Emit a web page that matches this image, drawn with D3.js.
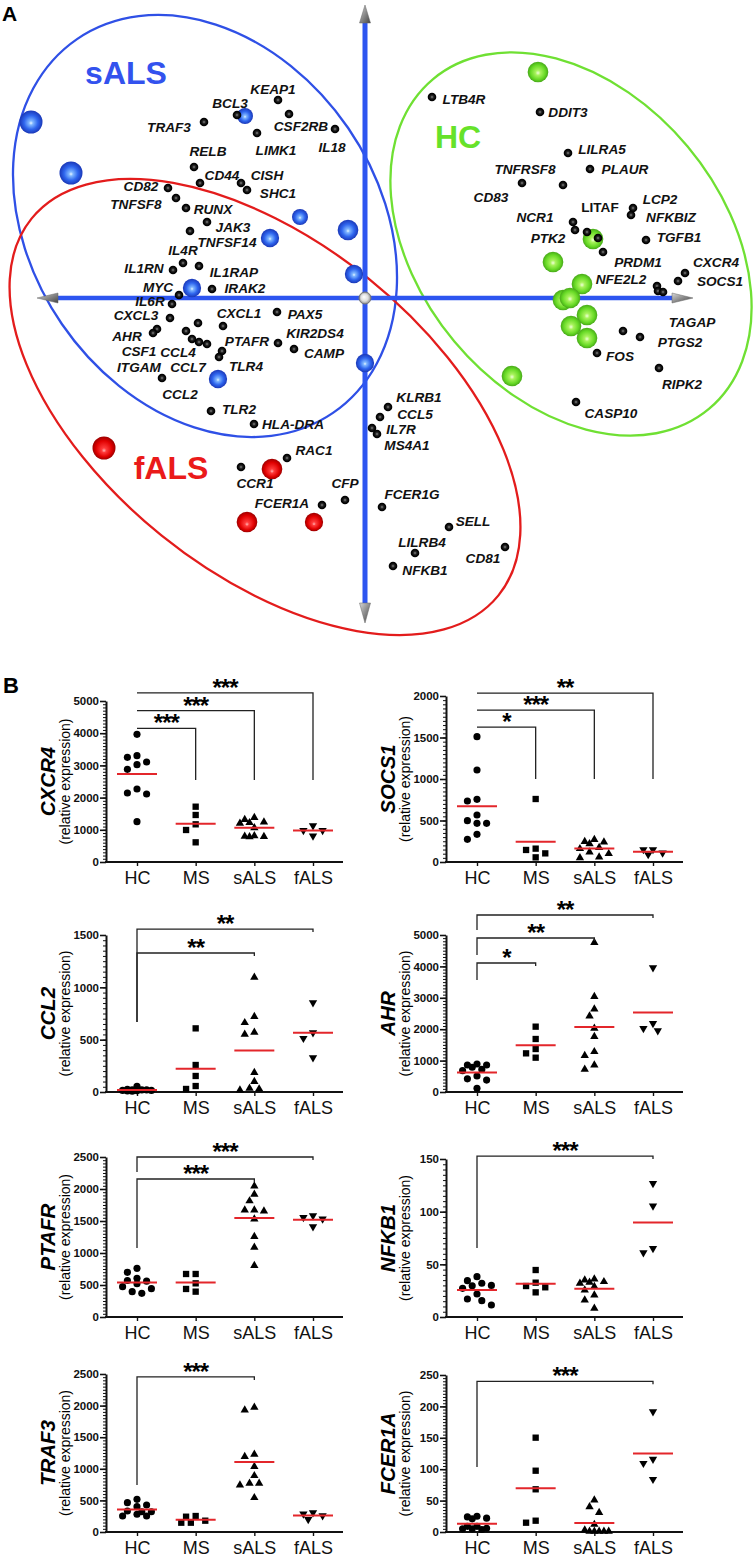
<!DOCTYPE html>
<html><head><meta charset="utf-8">
<script src="https://cdn.jsdelivr.net/npm/d3@7"></script>
<style>
html,body{margin:0;padding:0;background:#fff;}
svg{display:block;font-family:"Liberation Sans",Arial,Helvetica,sans-serif;}
</style></head><body>
<svg id="c" width="756" height="1558"></svg>
<script>
// ================= DATA =================
// Panel A: gene loadings (PC1, PC2)
const geneDots = [
["KEAP1",-1.74,3.96],["BCL3",-2.56,3.66],["CSF2RB",-1.52,3.68],["IL18",-0.60,3.38],["TRAF3",-3.22,3.52],
["LIMK1",-2.16,3.30],["RELB",-3.42,2.62],["CD44",-3.30,2.30],["CISH",-2.48,2.30],["SHC1",-2.36,2.16],
["CD82",-3.94,2.20],["TNFSF8",-3.78,2.00],["RUNX",-3.58,1.80],["JAK3",-3.16,1.52],["TNFSF14",-3.50,1.34],
["IL4R",-3.64,0.70],["IL1RN",-3.84,0.56],["IL1RAP",-3.32,0.64],["IRAK2",-3.06,0.18],["MYC",-3.72,0.06],
["IL6R",-3.86,-0.12],["CXCL3",-3.90,-0.40],["AHR",-4.16,-0.62],["CSF1",-4.24,-0.70],["CCL4",-3.34,-0.50],
["ITGAM",-3.58,-0.66],["CCL3",-3.46,-0.82],["CCL7",-3.32,-0.88],["IL1B",-3.16,-0.92],["CXCL1",-2.84,-0.56],
["TLR4",-2.86,-1.06],["CD14",-2.92,-1.18],["PAX5",-1.76,-0.28],["PTAFR",-1.74,-0.90],["CAMP",-1.42,-1.02],
["CCL2",-4.06,-1.60],["TLR2",-3.08,-2.26],["HLA-DRA",-2.22,-2.52],["RAC1",-1.56,-3.20],["CCR1",-2.48,-3.38],
["CFP",-0.40,-4.04],["FCER1A",-0.86,-4.14],["KLRB1",0.46,-2.18],["CCL5",0.30,-2.38],["IL7R",0.14,-2.60],
["MS4A1",0.24,-2.72],["FCER1G",0.34,-4.18],["SELL",1.68,-4.58],["LILRB4",1.00,-5.10],["NFKB1",0.56,-5.36],
["CD81",2.80,-4.98],["TAGAP",5.16,-0.66],["PTGS2",5.50,-0.78],["FOS",4.64,-1.10],["RIPK2",5.88,-1.40],
["CASP10",4.22,-2.08],["LTB4R",1.34,4.02],["DDIT3",3.50,3.72],["LILRA5",4.06,2.90],["PLAUR",4.50,2.58],
["TNFRSF8",3.96,2.26],["CD83",3.14,2.30],["LCP2",5.36,1.80],["NFKBIZ",5.32,1.66],["NCR1",4.16,1.52],
["LITAF",4.20,1.36],["PTK2",4.44,1.32],["PTK2b",4.66,1.20],["TGFB1",5.62,1.16],["PRDM1",4.76,0.92],
["CXCR4",6.40,0.50],["SOCS1",6.26,0.34],["NFE2L2",5.84,0.24],["NFE2L2b",5.86,0.14],["NFE2L2c",5.96,0.12]
];
// label anchor (centre) of each gene name, same units
const geneLabels = [
["KEAP1",-1.84,4.18],["BCL3",-2.70,3.90],["CSF2RB",-1.28,3.44],["IL18",-0.66,3.02],["TRAF3",-3.92,3.42],
["LIMK1",-1.78,2.96],["RELB",-3.14,2.94],["CD44",-2.86,2.46],["CISH",-1.96,2.46],["SHC1",-1.74,2.10],
["CD82",-4.48,2.24],["TNFSF8",-4.58,1.88],["RUNX",-3.04,1.78],["JAK3",-2.64,1.42],["TNFSF14",-2.76,1.12],
["IL4R",-3.64,0.96],["IL1RN",-4.42,0.60],["IL1RAP",-2.62,0.52],["IRAK2",-2.40,0.20],["MYC",-4.14,0.22],
["IL6R",-4.30,-0.06],["CXCL3",-4.58,-0.34],["AHR",-4.76,-0.76],["CSF1",-4.52,-1.06],["CCL4",-3.74,-1.08],
["ITGAM",-4.52,-1.38],["CCL7",-3.54,-1.38],["CXCL1",-2.52,-0.30],["PAX5",-1.20,-0.32],["KIR2DS4",-1.00,-0.70],
["PTAFR",-2.36,-0.86],["CAMP",-0.82,-1.10],["TLR4",-2.38,-1.36],["CCL2",-3.70,-1.92],["TLR2",-2.52,-2.22],
["HLA-DRA",-1.44,-2.52],["RAC1",-1.02,-3.04],["CCR1",-2.20,-3.70],["CFP",-0.40,-3.70],["FCER1A",-1.66,-4.10],
["KLRB1",1.08,-1.98],["CCL5",1.00,-2.32],["IL7R",0.72,-2.62],["MS4A1",0.84,-2.94],["FCER1G",0.94,-3.92],
["SELL",2.16,-4.46],["LILRB4",1.14,-4.88],["NFKB1",1.20,-5.44],["CD81",2.36,-5.20],["TAGAP",6.54,-0.48],
["PTGS2",6.30,-0.88],["FOS",5.10,-1.16],["RIPK2",6.34,-1.72],["CASP10",4.92,-2.30],["LTB4R",1.98,3.98],
["DDIT3",4.06,3.72],["LILRA5",4.74,2.98],["PLAUR",5.20,2.58],["TNFRSF8",3.20,2.58],["CD83",2.52,2.02],
["LITAF",4.70,1.82],["LCP2",5.90,1.98],["NFKBIZ",6.12,1.62],["NCR1",3.40,1.62],["PTK2",3.66,1.20],
["TGFB1",6.28,1.22],["PRDM1",5.46,0.72],["CXCR4",7.02,0.72],["SOCS1",7.10,0.34],["NFE2L2",5.12,0.38]
];
const uprightLabels = ["LITAF"];
// Panel A: subject scores (PC1, PC2, PC3 depth 0..1)
const sALSsubjects = [[-6.68,3.52,1],[-5.88,2.50,1],[-2.40,3.64,0],[-1.30,1.62,0],[-0.34,1.36,0.67],
  [-1.90,1.20,0.33],[-0.22,0.48,0.33],[-3.46,0.20,0.33],[-2.94,-1.62,0.33],[0.00,-1.30,0.33]];
const fALSsubjects = [[-5.22,-3.00,1],[-1.86,-3.42,0.67],[-2.36,-4.48,0.67],[-1.02,-4.48,0.33]];
const HCsubjects = [[3.46,4.52,0.67],[4.56,1.18,0.67],[3.76,0.72,0.67],[4.34,0.28,0.67],[3.96,-0.04,0.67],
  [4.10,0.00,0.67],[4.44,-0.34,0.67],[4.12,-0.56,0.67],[4.44,-0.80,0.67],[2.94,-1.56,0.67]];
// group ellipses: [name, centre x, centre y, semi-major, semi-minor, angle deg]
const groupEllipses = [["sALS",-3.20,1.44,4.53,3.47,55.6],["fALS",-2.00,-2.18,6.00,3.30,38.9],["HC",4.12,1.08,4.30,3.04,50.1]];
const groupLabels = [["sALS",-4.78,4.50],["HC",1.86,3.22],["fALS",-3.88,-3.40]];

// Panel B
const cats = ["HC","MS","sALS","fALS"];
const CXCR4 = [[3965,3302,3250,3106,3023,2878,2267,2143,2112,1253],[1718,1460,1170,994,611],
  [1380,1320,1240,1220,1200,1060,810,800,790,780],[980,1130,980,810]];
const SOCS1 = [[1510,1108,735,755,566,466,466,498,273,333],[759,145,56,104,161],
  [240,270,245,220,100,175,160,120,50,60],[150,90,110,150]];
const CCL2 = [[20,55,15,10,25,8,15,20,12,20],[608,258,153,29,57],
  [1096,720,662,551,570,185,99,35,19,29],[854,567,513,328]];
const AHR = [[860,790,860,890,720,680,510,420,380,120],[2081,1688,1369,1231,1093],
  [4756,3036,2643,2420,2028,1762,1284,1157,860,722],[3960,2187,1953,2028]];
const PTAFR = [[698,760,570,560,604,520,443,474,370,396],[672,672,526,396,438],
  [2047,1917,1813,1672,1656,1672,1531,1255,1089,802],[1557,1583,1531,1411]];
const NFKB1 = [[34.5,32,30,38.3,27.2,29.7,21.8,17.1,15.5,11.4],[44.6,29.4,32.6,28.2,23.4],
  [36,35,33.5,25.6,32,28.8,20.9,16.1,8.2,33],[126.9,105.4,61,65.2]];
const TRAF3 = [[401,464,427,517,280,253,253,332,321,321],[179,253,242,147,147],
  [1930,1973,1229,1192,1034,891,770,744,770,543],[285,200,258,306]];
const FCER1A = [[25,22,21,24,9,6,4,5,5,9],[150.2,97.6,68,14.8,18],
  [51,40,31,12,1,1,1,1,1,3],[191.6,115.8,109.4,83.9]];
const CXCR4_ticks=[0,1000,2000,3000,4000,5000], SOCS1_ticks=[0,500,1000,1500,2000],
      CCL2_ticks=[0,500,1000,1500], AHR_ticks=[0,1000,2000,3000,4000,5000],
      PTAFR_ticks=[0,500,1000,1500,2000,2500], NFKB1_ticks=[0,50,100,150],
      TRAF3_ticks=[0,500,1000,1500,2000,2500], FCER1A_ticks=[0,50,100,150,200,250];
// significance: [from, to, bar level, left leg end, right leg end, label]
const CXCR4_sig=[["HC","MS",4150,null,2550,"***"],["HC","sALS",4700,null,2550,"***"],["HC","fALS",5250,null,2550,"***"]];
const SOCS1_sig=[["HC","MS",1625,null,1000,"*"],["HC","sALS",1830,null,1000,"***"],["HC","fALS",2035,null,1000,"**"]];
const CCL2_sig=[["HC","sALS",1328,669,null,"**"],["HC","fALS",1557,669,null,"**"]];
const AHR_sig=[["HC","MS",4108,3567,null,"*"],["HC","sALS",4904,4363,null,"**"],["HC","fALS",5637,5159,null,"**"]];
const PTAFR_sig=[["HC","sALS",2156,1078,null,"***"],["HC","fALS",2500,2266,null,"***"]];
const NFKB1_sig=[["HC","fALS",152.8,65.5,null,"***"]];
const TRAF3_sig=[["HC","sALS",2453,744,null,"***"]];
const FCER1A_sig=[["HC","fALS",240,103.5,null,"***"]];

// ================= DRAWING =================
const svg = d3.select("#c");
const defs = svg.append("defs");
function radial(id, stops, fx, fy){
  const g=defs.append("radialGradient").attr("id",id).attr("cx","50%").attr("cy","50%").attr("r","50%")
    .attr("fx",(fx*100)+"%").attr("fy",(fy*100)+"%");
  stops.forEach(s=>g.append("stop").attr("offset",s[0]).attr("stop-color",s[1]));
}
radial("gBlue",[[0,"#e8f6ff"],[0.18,"#7fb6ff"],[0.6,"#2f66ee"],[1,"#1a38b8"]],0.5,0.55);
radial("gRed",[[0,"#ffb4b4"],[0.2,"#ff3c3c"],[0.7,"#e00000"],[1,"#9c0000"]],0.5,0.62);
radial("gGreen",[[0,"#efffd8"],[0.25,"#a8f25c"],[0.7,"#68da26"],[1,"#46a818"]],0.5,0.55);
radial("gDark",[[0,"#8a8a8a"],[0.35,"#2a2a2a"],[0.7,"#050505"],[1,"#000"]],0.5,0.5);
radial("gOrig",[[0,"#ffffff"],[0.6,"#dddddd"],[1,"#8a8a8a"]],0.4,0.4);
const lg=defs.append("linearGradient").attr("id","gCone").attr("x1","0").attr("y1","0").attr("x2","1").attr("y2","1");
[[0,"#d8d8d8"],[0.5,"#8a8a8a"],[1,"#444"]].forEach(s=>lg.append("stop").attr("offset",s[0]).attr("stop-color",s[1]));

// ---- Panel A ----
const ax = d3.scaleLinear().domain([-6.56,6.56]).range([37,693]);
const ay = d3.scaleLinear().domain([6.56,-6.56]).range([-30,626]);
const gA = svg.append("g");
gA.append("text").attr("x",2).attr("y",21).attr("font-size",21).attr("font-weight","bold").text("A");
const groupColor = {sALS:"#2f50e6", fALS:"#e31c1c", HC:"#6fe033"};
const labelColor = {sALS:"#3352ee", fALS:"#ea1a1a", HC:"#66e22a"};

gA.selectAll("ellipse.grp").data(groupEllipses).join("ellipse").attr("class","grp")
  .attr("cx",0).attr("cy",0)
  .attr("rx",d=>ax(d[3])-ax(0)).attr("ry",d=>ay(0)-ay(d[4]))
  .attr("transform",d=>`translate(${ax(d[1])},${ay(d[2])}) rotate(${d[5]})`)
  .attr("fill","none").attr("stroke",d=>groupColor[d[0]]).attr("stroke-width",2.3);

// axes
const axisBlue="#2d55f0";
gA.append("line").attr("x1",ax(0)).attr("x2",ax(0)).attr("y1",ay(5.56)).attr("y2",ay(-6.14))
  .attr("stroke",axisBlue).attr("stroke-width",5);
gA.append("line").attr("x1",ax(-6.16)).attr("x2",ax(6.16)).attr("y1",ay(0)).attr("y2",ay(0))
  .attr("stroke",axisBlue).attr("stroke-width",4.5);
function cone(tip, base, half, vertical){
  let pts;
  if(vertical) pts=[[ax(0),tip],[ax(0)-half,base],[ax(0)+half,base]];
  else pts=[[tip,ay(0)],[base,ay(0)-half],[base,ay(0)+half]];
  gA.append("polygon").attr("points",pts.map(p=>p.join(",")).join(" ")).attr("fill","url(#gCone)")
    .attr("stroke","#666").attr("stroke-width",0.5);
}
cone(ay(5.86),ay(5.50),5.5,true);
cone(ay(-6.50),ay(-6.10),5.5,true);
cone(ax(-6.56),ax(-6.14),5,false);
cone(ax(6.56),ax(6.14),5,false);
gA.append("circle").attr("cx",ax(0)).attr("cy",ay(0)).attr("r",6).attr("fill","url(#gOrig)")
  .attr("stroke","#777").attr("stroke-width",1);

// subject spheres
const rDepth = d3.scaleLinear().domain([0,1]).range([8,11.5]);
function spheres(data, grad){
  gA.append("g").selectAll("circle").data(data).join("circle")
    .attr("cx",d=>ax(d[0])).attr("cy",d=>ay(d[1])).attr("r",d=>rDepth(d[2])).attr("fill",grad);
}
spheres(sALSsubjects,"url(#gBlue)");
spheres(fALSsubjects,"url(#gRed)");
spheres(HCsubjects,"url(#gGreen)");

// gene dots
gA.append("g").selectAll("circle").data(geneDots).join("circle")
  .attr("cx",d=>ax(d[1])).attr("cy",d=>ay(d[2])).attr("r",4.3).attr("fill","url(#gDark)");
// gene labels
gA.append("g").selectAll("text").data(geneLabels).join("text")
  .attr("x",d=>ax(d[1])).attr("y",d=>ay(d[2])).attr("text-anchor","middle").attr("dominant-baseline","central")
  .attr("font-size",13.6).attr("font-weight","bold")
  .attr("font-style",d=>uprightLabels.includes(d[0])?"normal":"italic").attr("fill","#111").text(d=>d[0]);
// group labels
gA.append("g").selectAll("text").data(groupLabels).join("text")
  .attr("x",d=>ax(d[1])).attr("y",d=>ay(d[2])).attr("text-anchor","middle").attr("dominant-baseline","central")
  .attr("font-size",32).attr("font-weight","bold").attr("fill",d=>labelColor[d[0]]).text(d=>d[0]);

// ---- Panel B ----
svg.append("text").attr("x",3).attr("y",693).attr("font-size",22).attr("font-weight","bold").text("B");
const panelsB = [
 {gene:"CXCR4",vals:CXCR4,ticks:CXCR4_ticks,sig:CXCR4_sig},
 {gene:"SOCS1",vals:SOCS1,ticks:SOCS1_ticks,sig:SOCS1_sig},
 {gene:"CCL2",vals:CCL2,ticks:CCL2_ticks,sig:CCL2_sig},
 {gene:"AHR",vals:AHR,ticks:AHR_ticks,sig:AHR_sig},
 {gene:"PTAFR",vals:PTAFR,ticks:PTAFR_ticks,sig:PTAFR_sig},
 {gene:"NFKB1",vals:NFKB1,ticks:NFKB1_ticks,sig:NFKB1_sig},
 {gene:"TRAF3",vals:TRAF3,ticks:TRAF3_ticks,sig:TRAF3_sig},
 {gene:"FCER1A",vals:FCER1A,ticks:FCER1A_ticks,sig:FCER1A_sig}
];
const frames = [
 {x0:106,y0:862,yTop:701},{x0:446,y0:862,yTop:696},
 {x0:106,y0:1092,yTop:935},{x0:446,y0:1092,yTop:935},
 {x0:106,y0:1317,yTop:1157},{x0:446,y0:1317,yTop:1159},
 {x0:106,y0:1532,yTop:1374},{x0:446,y0:1532,yTop:1375}
];
const symbols = [d3.symbolCircle,d3.symbolSquare,d3.symbolTriangle,d3.symbolTriangle];
const symSize = [40,40,30,30];

function swarm(vals, y, step, dmin){
  const idx = vals.map((v,i)=>i).sort((a,b)=>vals[b]-vals[a]);
  const placed=[], off=new Array(vals.length);
  const cand=[0,-1,1,-2,2,-3,3];
  idx.forEach(i=>{
    const py=y(vals[i]); let best=null, bestD=-1;
    for(const c of cand){
      const o=c*step;
      const md = placed.length? d3.min(placed,p=>Math.hypot(p[0]-o,p[1]-py)) : Infinity;
      if(md>=dmin){best=o;bestD=md;break;}
      if(md>bestD+0.5){bestD=md;best=o;}
    }
    off[i]=best; placed.push([best,py]);
  });
  return off;
}

panelsB.forEach((p,i)=>{
  const f=frames[i];
  const g=svg.append("g");
  const x=d3.scalePoint().domain(cats).range([f.x0+31,f.x0+207]);
  const ymax=d3.max(p.ticks);
  const y=d3.scaleLinear().domain([0,ymax]).range([f.y0,f.yTop]);
  const stepT=p.ticks[1]-p.ticks[0];
  // minor ticks
  const minor=d3.range(0,ymax+stepT/20,stepT/10);
  const gm=g.append("g").attr("transform",`translate(${f.x0},0)`)
    .call(d3.axisLeft(y).tickValues(minor).tickSize(3).tickSizeOuter(0).tickFormat(""));
  gm.select(".domain").remove();
  gm.selectAll("line").attr("stroke","#111").attr("stroke-width",1);
  const gy=g.append("g").attr("transform",`translate(${f.x0},0)`)
    .call(d3.axisLeft(y).tickValues(p.ticks).tickSize(6).tickSizeOuter(0).tickPadding(1).tickFormat(d3.format("d")));
  gy.select(".domain").attr("stroke","#111").attr("stroke-width",2);
  gy.selectAll(".tick line").attr("stroke","#111").attr("stroke-width",1.6);
  gy.selectAll("text").attr("font-size",11.5).attr("font-weight","bold").attr("fill","#111")
    .attr("font-family","Liberation Sans, Arial, sans-serif");
  // x axis
  g.append("line").attr("x1",f.x0-1).attr("x2",f.x0+237).attr("y1",f.y0).attr("y2",f.y0)
    .attr("stroke","#111").attr("stroke-width",2);
  const gx=g.append("g").attr("transform",`translate(0,${f.y0})`)
    .call(d3.axisBottom(x).tickSize(4).tickSizeOuter(0).tickPadding(5));
  gx.select(".domain").remove();
  gx.selectAll(".tick line").attr("stroke","#111").attr("stroke-width",1.4);
  gx.selectAll("text").attr("font-size",18).attr("fill","#111").attr("font-family","Liberation Sans, Arial, sans-serif");
  // titles
  const cy=(f.y0+f.yTop)/2;
  g.append("text").attr("transform",`translate(${f.x0-59},${cy}) rotate(-90)`).attr("text-anchor","middle")
    .attr("dominant-baseline","central").attr("font-size",20.5).attr("font-weight","bold").attr("font-style","italic")
    .text(p.gene);
  g.append("text").attr("transform",`translate(${f.x0-41},${cy}) rotate(-90)`).attr("text-anchor","middle")
    .attr("dominant-baseline","central").attr("font-size",14).text("(relative expression)");
  // points
  p.vals.forEach((vals,k)=>{
    const off=swarm(vals,y,4.8,8);
    const sym=d3.symbol().type(symbols[k]).size(symSize[k]);
    g.append("g").selectAll("path").data(vals).join("path")
      .attr("d",sym)
      .attr("transform",(d,j)=>`translate(${x(cats[k])+off[j]},${y(d)})${k===3?" rotate(180)":""}`)
      .attr("fill","#000");
    const m=d3.mean(vals);
    g.append("line").attr("x1",x(cats[k])-20).attr("x2",x(cats[k])+20).attr("y1",y(m)).attr("y2",y(m))
      .attr("stroke","#e3262b").attr("stroke-width",2);
  });
  // significance brackets
  p.sig.forEach(s=>{
    const xl=x(s[0]), xr=x(s[1]), yb=y(s[2]);
    let path = s[3]!==null ? `M${xl},${y(s[3])}V${yb}` : `M${xl},${yb}`;
    path += `H${xr}`;
    path += s[4]!==null ? `V${y(s[4])}` : `v3`;
    g.append("path").attr("d",path).attr("fill","none").attr("stroke","#222").attr("stroke-width",1.3);
    g.append("text").attr("x",(xl+xr)/2).attr("y",yb+3).attr("text-anchor","middle")
      .attr("font-size",24).attr("font-weight","bold").attr("letter-spacing",-1).text(s[5]);
  });
});
</script>
</body></html>
